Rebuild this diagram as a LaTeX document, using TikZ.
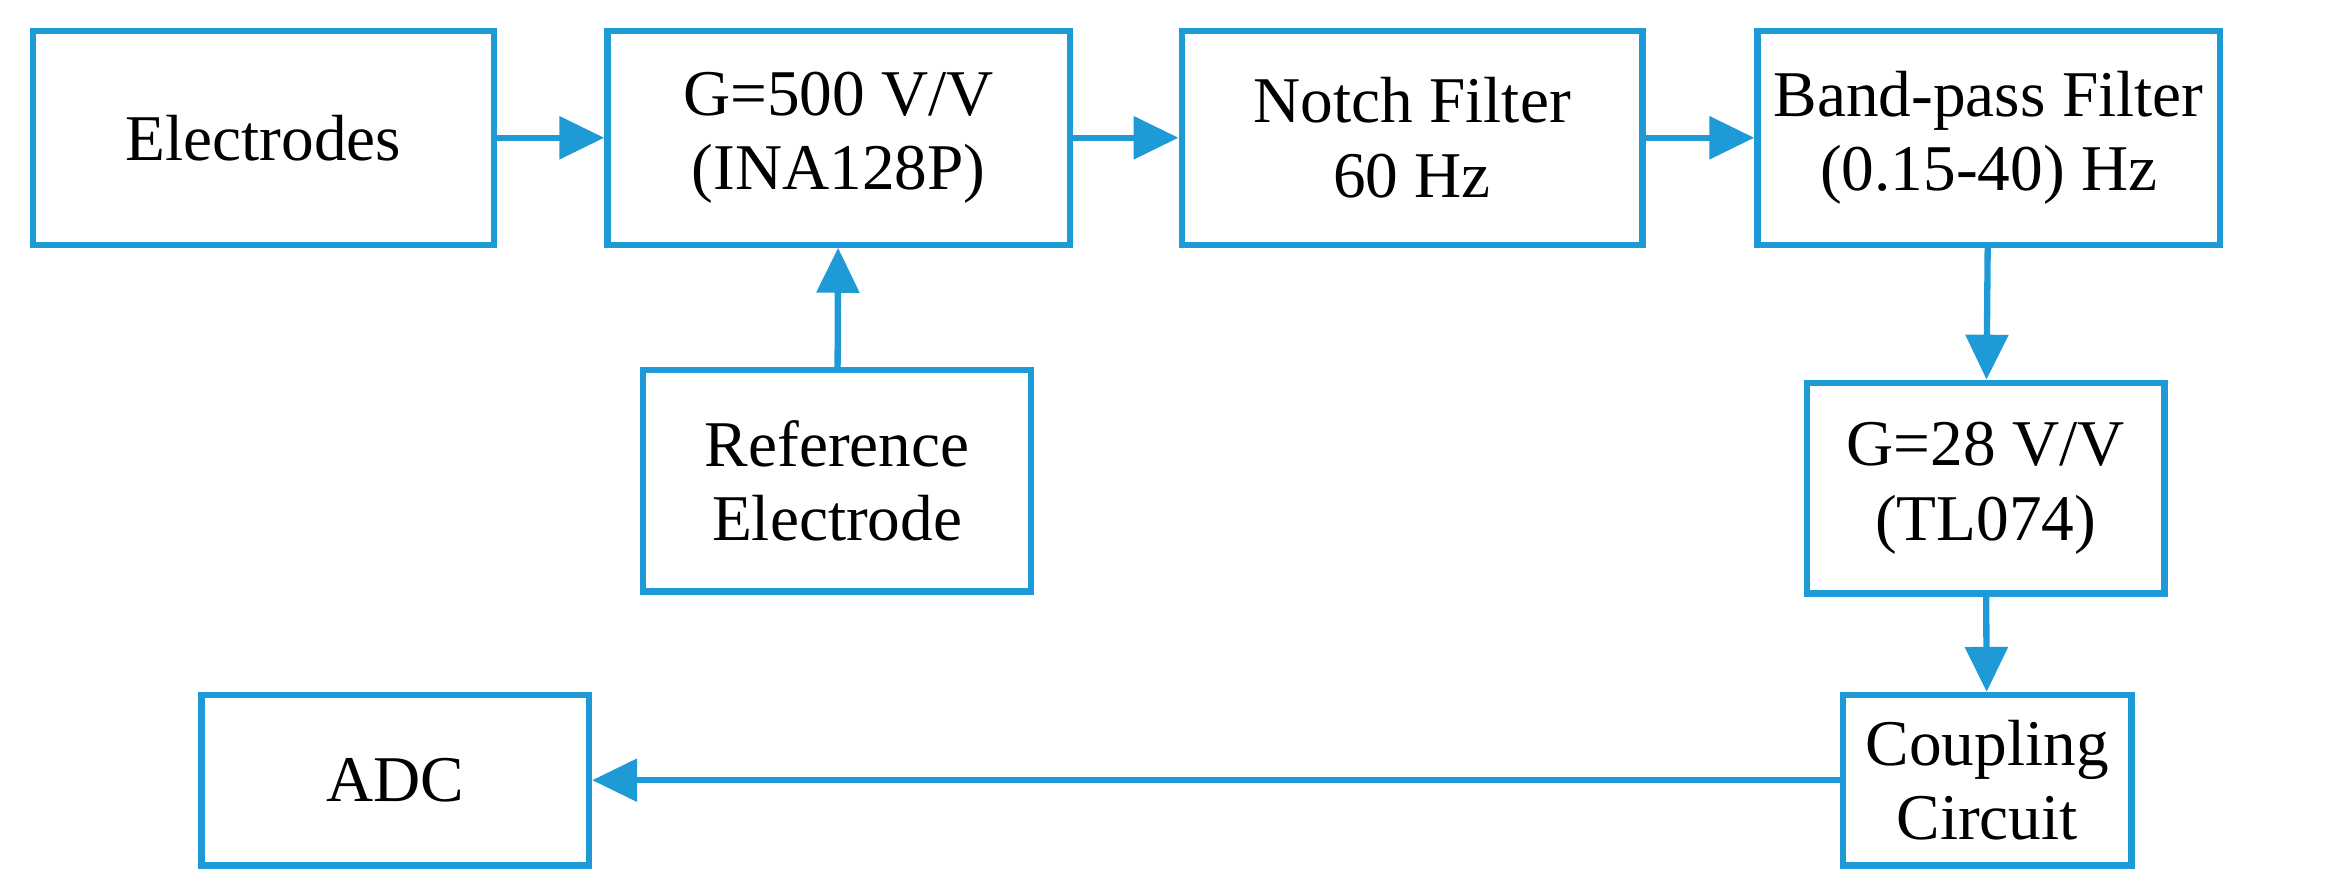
\documentclass[tikz,border=0pt]{standalone}
\usepackage{fontspec}
\setmainfont{Liberation Serif}
\usetikzlibrary{arrows.meta}
\definecolor{lblue}{RGB}{30,155,215}
\begin{document}
\begin{tikzpicture}[x=0.015cm,y=-0.015cm,
  box/.style={draw=lblue, line width=1.8pt, align=center, inner sep=0pt,
    font=\fontsize{18.6}{21.2}\selectfont},
  arr/.style={draw=lblue, line width=1.8pt, -{Triangle[length=0.45cm,width=0.42cm]}}]
\useasboundingbox (0,0) rectangle (1568,598);
\newcommand{\bx}[6]{\node[box, minimum width=#4*0.015cm-1.8pt, minimum height=#5*0.015cm-1.8pt] (#1) at (#2,#3) {#6};}
\bx{el}{176}{92}{312}{147}{Electrodes}
\bx{g5}{560}{92}{313}{147}{G=500 V/V\\(INA128P)}
\bx{nf}{943}{92}{312}{147}{Notch Filter\\60 Hz}
\bx{bp}{1328}{92}{313}{147}{Band-pass Filter\\(0.15-40) Hz}
\bx{re}{559}{321}{263}{152}{Reference\\Electrode}
\bx{g2}{1326}{326}{243}{145}{G=28 V/V\\(TL074)}
\bx{cc}{1327}{521}{197}{118}{Coupling\\Circuit}
\bx{adc}{264}{521}{263}{118}{ADC}
\draw[arr] (el) -- (g5);
\draw[arr] (g5) -- (nf);
\draw[arr] (nf) -- (bp);
\draw[arr] (re) -- (g5);
\draw[arr] (bp) -- (g2);
\draw[arr] (g2) -- (cc);
\draw[arr] (cc) -- (adc);
\end{tikzpicture}
\end{document}
